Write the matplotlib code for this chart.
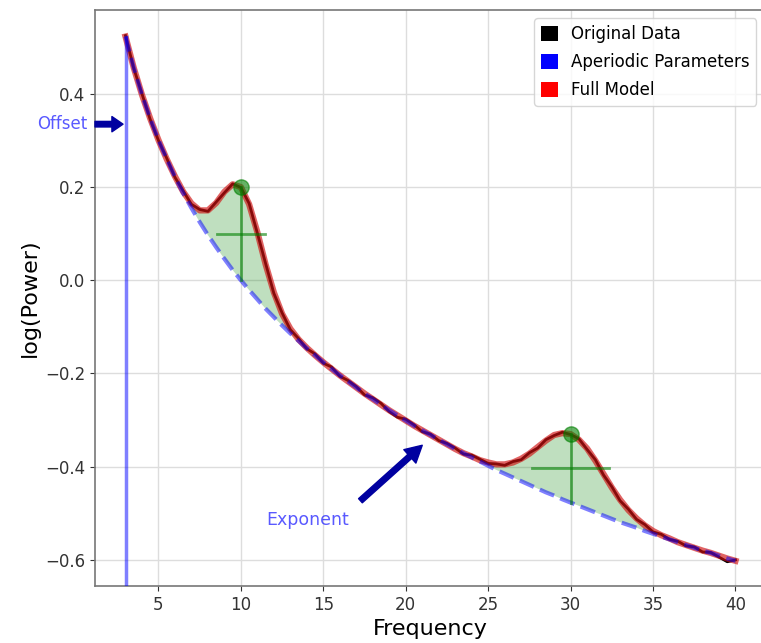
import numpy as np
import matplotlib
matplotlib.use("Agg")
import matplotlib.pyplot as plt
from matplotlib.patches import Patch

# frequency grid of the spectrum (Hz)
freqs = np.arange(3.0, 40.5, 0.5)

# original power spectrum, log10 power
data_power = [0.525, 0.455, 0.400, 0.345, 0.300, 0.262, 0.221, 0.192, 0.163, 0.152,
              0.148, 0.168, 0.188, 0.207, 0.199, 0.165, 0.101, 0.036, -0.028, -0.070,
              -0.106, -0.125, -0.147, -0.158, -0.178, -0.186, -0.206, -0.215, -0.228, -0.246,
              -0.252, -0.264, -0.282, -0.294, -0.298, -0.310, -0.325, -0.330, -0.344, -0.350,
              -0.360, -0.373, -0.375, -0.384, -0.393, -0.394, -0.397, -0.389, -0.385, -0.370,
              -0.360, -0.342, -0.333, -0.326, -0.331, -0.340, -0.363, -0.385, -0.418, -0.443,
              -0.473, -0.491, -0.513, -0.524, -0.540, -0.545, -0.556, -0.560, -0.570, -0.572,
              -0.583, -0.584, -0.594, -0.604, -0.600]

# full model fit
model_power = [0.523, 0.456, 0.398, 0.347, 0.301, 0.260, 0.223, 0.190, 0.165, 0.150,
               0.150, 0.166, 0.190, 0.206, 0.200, 0.163, 0.103, 0.034, -0.026, -0.072,
               -0.104, -0.127, -0.145, -0.161, -0.176, -0.190, -0.204, -0.217, -0.230, -0.243,
               -0.255, -0.267, -0.279, -0.290, -0.301, -0.312, -0.322, -0.332, -0.342, -0.352,
               -0.362, -0.371, -0.378, -0.386, -0.391, -0.395, -0.395, -0.391, -0.383, -0.372,
               -0.358, -0.344, -0.332, -0.328, -0.330, -0.342, -0.361, -0.387, -0.416, -0.445,
               -0.471, -0.493, -0.511, -0.526, -0.538, -0.547, -0.554, -0.562, -0.568, -0.574,
               -0.580, -0.585, -0.591, -0.597, -0.602]

# aperiodic fit
ap_power = [0.523, 0.456, 0.398, 0.347, 0.301, 0.260, 0.222, 0.187, 0.155, 0.125,
            0.097, 0.071, 0.046, 0.022, 0.000, -0.021, -0.041, -0.061, -0.079, -0.097,
            -0.114, -0.130, -0.146, -0.161, -0.176, -0.190, -0.204, -0.217, -0.230, -0.243,
            -0.255, -0.267, -0.279, -0.290, -0.301, -0.312, -0.322, -0.332, -0.342, -0.352,
            -0.362, -0.371, -0.380, -0.389, -0.398, -0.407, -0.415, -0.423, -0.431, -0.439,
            -0.447, -0.455, -0.462, -0.470, -0.477, -0.484, -0.491, -0.498, -0.505, -0.512,
            -0.519, -0.525, -0.531, -0.538, -0.544, -0.550, -0.556, -0.562, -0.568, -0.574,
            -0.580, -0.585, -0.591, -0.597, -0.602]

# peak parameters: centre frequency, height above aperiodic, full width at half max
peak_cf = [10.0, 30.0]
peak_pw = [0.200, 0.147]
peak_fwhm = [2.9, 4.7]

data_power = np.array(data_power)
model_power = np.array(model_power)
ap_power = np.array(ap_power)

fig = plt.figure(figsize=(7.61, 6.43), dpi=100)
ax = fig.add_axes([95 / 761, 57 / 643, 671 / 761, 576 / 643])

ax.plot(freqs, data_power, color='black', lw=2, zorder=3)
ax.plot(freqs, model_power, color='#d01010', lw=4.5, alpha=0.65, zorder=4)
ax.plot(freqs, ap_power, color='blue', lw=3, ls='--', alpha=0.5, zorder=5)

# shaded peaks
ax.fill_between(freqs, ap_power, model_power, where=(model_power - ap_power) > 0.002,
                color='green', alpha=0.25, lw=0, zorder=2)

for cf, pw, bw in zip(peak_cf, peak_pw, peak_fwhm):
    base = ap_power[np.argmin(np.abs(freqs - cf))]
    top = base + pw
    ax.plot(cf, top, 'o', color='green', ms=11, alpha=0.6, zorder=6)
    ax.plot([cf, cf], [base, top], color='green', lw=2, alpha=0.6, zorder=6)
    ax.plot([cf - bw / 2, cf + bw / 2], [top - pw / 2, top - pw / 2],
            color='green', lw=2, alpha=0.6, zorder=6)

ax.set_xlim(1.15, 41.85)
ax.set_ylim(-0.656, 0.58)

# offset marker
ax.plot([freqs[0], freqs[0]], [ax.get_ylim()[0], model_power[0]],
        color='blue', lw=2.5, alpha=0.5, zorder=5)
ax.annotate('', xy=(2.85, 0.335), xytext=(1.15, 0.335), annotation_clip=False,
            arrowprops=dict(facecolor='#0000a0', edgecolor='#0000a0',
                            width=4, headwidth=11, headlength=8, shrink=0))
ax.text(0.69, 0.335, 'Offset', ha='right', va='center', color='blue',
        alpha=0.65, fontsize=12, clip_on=False)

# exponent marker
ax.annotate('', xy=(21.0, -0.354), xytext=(17.25, -0.473),
            arrowprops=dict(facecolor='#0000a0', edgecolor='#0000a0',
                            width=4, headwidth=13, headlength=12, shrink=0))
ax.text(11.55, -0.514, 'Exponent', ha='left', va='center', color='blue',
        alpha=0.65, fontsize=12.5)

ax.set_xticks([5, 10, 15, 20, 25, 30, 35, 40])
ax.set_yticks([-0.6, -0.4, -0.2, 0.0, 0.2, 0.4])
ax.tick_params(labelsize=12, colors='#333333')
ax.grid(True, color='#dddddd', lw=1)
ax.set_axisbelow(True)
for s in ax.spines.values():
    s.set_color('#777777')
    s.set_linewidth(1.2)
ax.spines['right'].set_visible(False)

ax.set_xlabel('Frequency', fontsize=16, labelpad=4)
ax.set_ylabel('log(Power)', fontsize=16)

handles = [Patch(facecolor='black', label='Original Data'),
           Patch(facecolor='blue', label='Aperiodic Parameters'),
           Patch(facecolor='red', label='Full Model')]
ax.legend(handles=handles, loc='upper right', fontsize=12, labelspacing=0.6,
          handlelength=1.0, handleheight=1.0, bbox_to_anchor=(0.998, 1.0))

fig.savefig('out.png', dpi=100)
